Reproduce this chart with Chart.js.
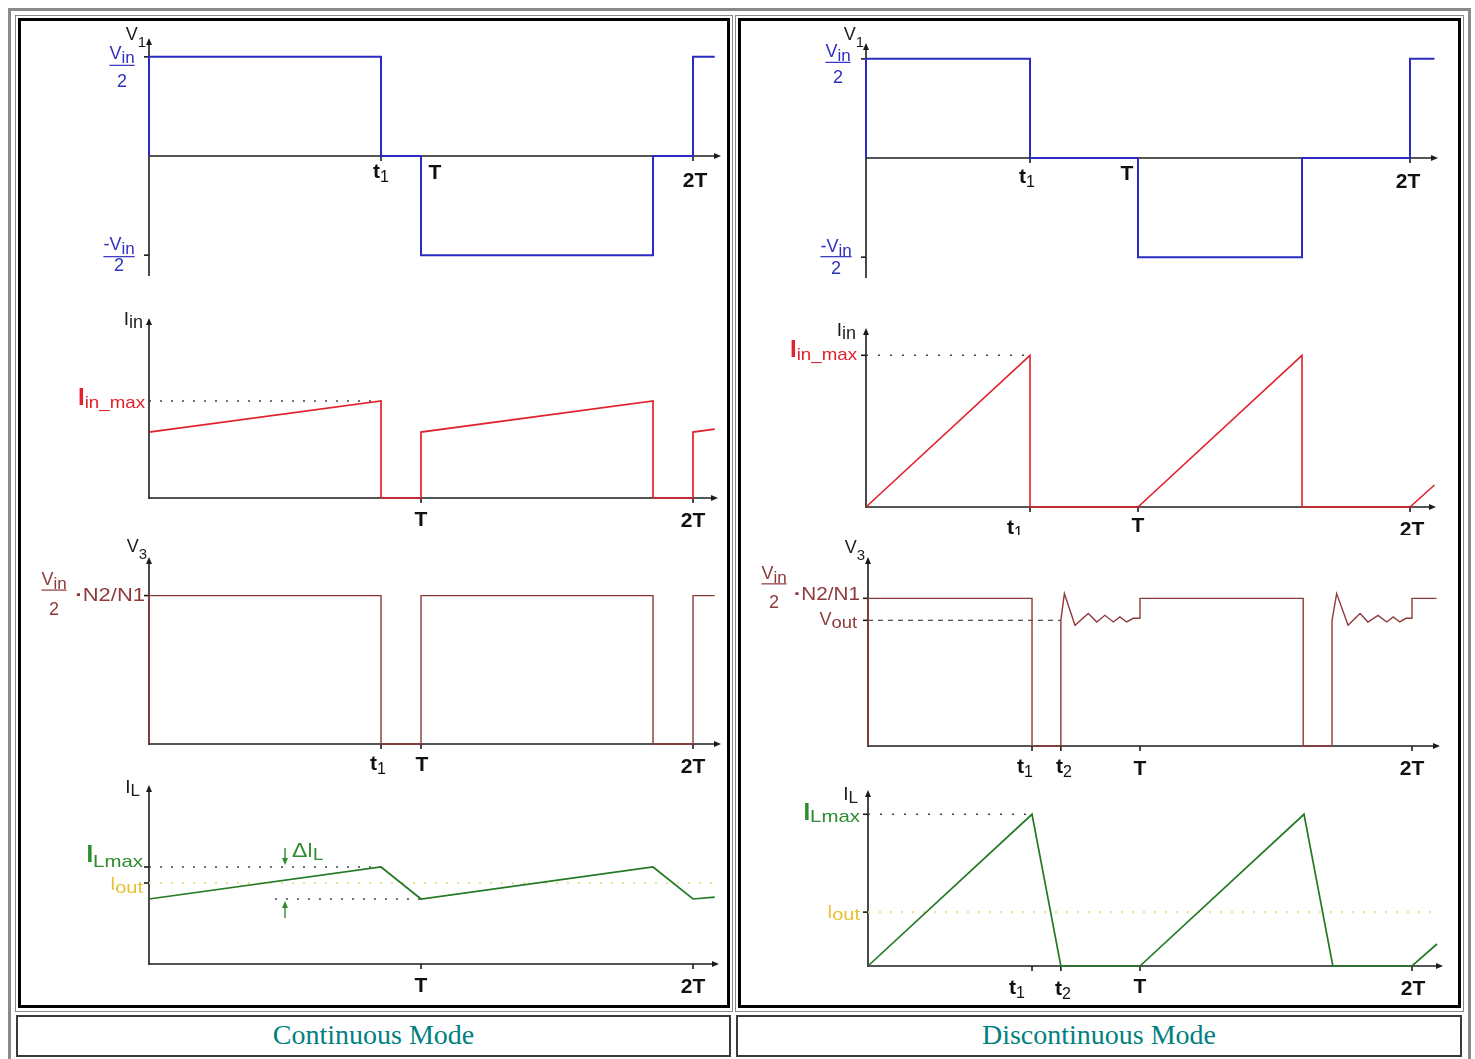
<!DOCTYPE html>
<html>
<head>
<meta charset="utf-8">
<script src="https://cdn.jsdelivr.net/npm/chart.js@4.4.0/dist/chart.umd.min.js"></script>
<style>
body { margin: 0; background: #fff; width: 1475px; height: 1059px; position: relative; overflow: hidden; }
.box { position: absolute; box-sizing: border-box; }
canvas { position: absolute; }
.cap { position: absolute; box-sizing: border-box; border: 2px solid #3a3a3a; background: #fff;
       font-family: "Liberation Serif", "Times New Roman", serif; color: #008080; font-size: 28px;
       text-align: center; line-height: 36px; }
</style>
</head>
<body>
<div class="box" style="left:8px;top:8px;width:1463px;height:1060px;border:3px solid #8a8a8a"></div>
<div class="box" style="left:15px;top:15px;width:718px;height:997px;border:1px solid #8a8a8a"></div>
<div class="box" style="left:735px;top:15px;width:729px;height:997px;border:1px solid #8a8a8a"></div>
<div class="box" style="left:18px;top:18px;width:712px;height:990px;border:3px solid #000"></div>
<div class="box" style="left:738px;top:18px;width:723px;height:990px;border:3px solid #000"></div>
<div class="cap" style="left:16px;top:1015px;width:715px;height:42px">Continuous Mode</div>
<div class="cap" style="left:736px;top:1015px;width:726px;height:42px">Discontinuous Mode</div>

<canvas id="contV1"></canvas>
<canvas id="contIin"></canvas>
<canvas id="contV3"></canvas>
<canvas id="contIL"></canvas>
<canvas id="discV1"></canvas>
<canvas id="discIin"></canvas>
<canvas id="discV3"></canvas>
<canvas id="discIL"></canvas>

<script>
// ---- data: time in periods (T = 1), levels normalised to the labelled value ----
const contTimes = { t1: 0.853, T: 1, '2T': 2 };
const discTimes = { t1: 0.603, t2: 0.709, T: 1, '2T': 2 };

const contV1t = [0, 0, 0.853, 0.853, 1, 1, 1.853, 1.853, 2, 2, 2.08];
const contV1v = [0, 1, 1, 0, 0, -1, -1, 0, 0, 1, 1];
const contIint = [0, 0.853, 0.853, 1, 1, 1.853, 1.853, 2, 2, 2.08];
const contIinv = [0.68, 1, 0, 0, 0.68, 1, 0, 0, 0.68, 0.71];
const contV3t = [0, 0, 0.853, 0.853, 1, 1, 1.853, 1.853, 2, 2, 2.08];
const contV3v = [0, 1, 1, 0, 0, 1, 1, 0, 0, 1, 1];
const contILt = [0, 0.853, 1, 1.853, 2, 2.08];
const contILv = [0.67, 1, 0.67, 1, 0.67, 0.69];
const contILmin = 0.67;
const contIout = 0.835;

const discV1t = [0, 0, 0.603, 0.603, 1, 1, 1.603, 1.603, 2, 2, 2.09];
const discV1v = [0, 1, 1, 0, 0, -1, -1, 0, 0, 1, 1];
const discIint = [0, 0.603, 0.603, 1, 1.603, 1.603, 2, 2.09];
const discIinv = [0, 1, 0, 0, 1, 0, 0, 0.145];
const discV3t = [0, 0, 0.603, 0.603, 0.709, 0.709, 0.722, 0.761, 0.81, 0.841, 0.871, 0.902, 0.926, 0.951, 0.975, 1,
                 1, 1.6, 1.6, 1.706, 1.706, 1.723, 1.765, 1.809, 1.838, 1.875, 1.907, 1.931, 1.955, 1.978, 2, 2, 2.09];
const discV3v = [0, 1, 1, 0, 0, 0.851, 1.032, 0.818, 0.898, 0.84, 0.885, 0.84, 0.874, 0.84, 0.865, 0.865,
                 1, 1, 0, 0, 0.851, 1.032, 0.818, 0.898, 0.84, 0.885, 0.84, 0.874, 0.84, 0.865, 0.865, 1, 1];
const discVout = 0.851;
const discILt = [0, 0.603, 0.709, 1, 1.603, 1.709, 2, 2.092];
const discILv = [0, 1, 0, 0, 1, 0, 0, 0.145];
const discIout = 0.355;

const contV1Ticks = ['t1', 'T', '2T'];
const contIinTicks = ['T', '2T'];
const contV3Ticks = ['t1', 'T', '2T'];
const contILTicks = ['T', '2T'];
const discV1Ticks = ['t1', 'T', '2T'];
const discIinTicks = ['t1', 'T', '2T'];
const discV3Ticks = ['t1', 't2', 'T', '2T'];
const discILTicks = ['t1', 't2', 'T', '2T'];

// ---- styling ----
const FONT = '"Liberation Sans", Arial, sans-serif';
const AXIS = '#1c1c1c';
const BLUE = '#2b2bc2', BLUE_TXT = '#3030c0';
const RED = '#e0222c';
const BROWN = '#8e3a3a';
const GREEN = '#247a24', GREEN_TXT = '#2e8c2e';
const YELLOW_TXT = '#e8c030', YELLOW_DOT = '#efe090';
const DOT = '#444';
const PERIOD_PX = 272;

const tickParts = {
    t1: [['t', 21, 0, true], ['1', 16, 4]],
    t2: [['t', 21, 0, true], ['2', 16, 4]],
    T: [['T', 21, 0, true]],
    '2T': [['2T', 21, 0, true]]
};

const fontOf = p => (p[3] ? 'bold ' : '') + p[1] + 'px ' + FONT;

function seg(ctx, x1, y1, x2, y2) {
    ctx.beginPath(); ctx.moveTo(x1, y1); ctx.lineTo(x2, y2); ctx.stroke();
}

function head(ctx, x, y, dx, dy) {
    // small filled arrow head, tip at x,y pointing along dx,dy
    const px = -dy, py = dx;
    ctx.beginPath();
    ctx.moveTo(x, y);
    ctx.lineTo(x - dx * 7 + px * 3, y - dy * 7 + py * 3);
    ctx.lineTo(x - dx * 7 - px * 3, y - dy * 7 - py * 3);
    ctx.closePath();
    ctx.fill();
}

function drawRuns(ctx, parts, x, y, align, color) {
    let w = 0;
    parts.forEach(p => { ctx.font = fontOf(p); w += ctx.measureText(p[0]).width * (p[4] || 1); });
    let cx = align === 'right' ? x - w : align === 'center' ? x - w / 2 : x;
    ctx.fillStyle = color;
    ctx.textAlign = 'left';
    ctx.textBaseline = 'alphabetic';
    parts.forEach(p => {
        ctx.font = fontOf(p);
        const pw = ctx.measureText(p[0]).width * (p[4] || 1);
        ctx.save();
        ctx.translate(cx, y + (p[2] || 0));
        ctx.scale(p[4] || 1, 1);
        ctx.fillText(p[0], 0, 0);
        ctx.restore();
        cx += pw;
    });
    return w;
}

function drawFrac(ctx, f, X0, py, color) {
    const cx = X0 + f.cx, bar = py + f.bar;
    const w = drawRuns(ctx, f.num, cx, bar + f.numB, 'center', color);
    ctx.strokeStyle = color;
    ctx.lineWidth = 1.2;
    seg(ctx, cx - w / 2, bar + 0.5, cx + w / 2, bar + 0.5);
    drawRuns(ctx, [[f.den, 18]], cx, bar + f.denB, 'center', color);
}

// draws the axes, arrows, ticks and the text labels through the chart's scales
function diagram(spec) {
    return {
        id: 'diagram',
        beforeDatasetsDraw(chart) {
            const { ctx } = chart, sx = chart.scales.x, sy = chart.scales.y;
            const X0 = sx.getPixelForValue(0), X1 = sx.getPixelForValue(sx.max);
            const Y0 = sy.getPixelForValue(0), YT = sy.getPixelForValue(sy.max), YB = sy.getPixelForValue(sy.min);
            ctx.save();
            ctx.strokeStyle = AXIS; ctx.fillStyle = AXIS; ctx.lineWidth = 1.6;
            seg(ctx, X0, YB + 1, X0, YT + 4);
            seg(ctx, X0, Y0, X1 - 4, Y0);
            head(ctx, X0, YT, 0, -1);
            head(ctx, X1, Y0, 1, 0);
            spec.ticks.forEach(tk => {
                const p = sx.getPixelForValue(spec.times[tk.n]);
                seg(ctx, p, Y0, p, Y0 + 5);
            });
            spec.yTicks.forEach(v => {
                const p = sy.getPixelForValue(v);
                seg(ctx, X0 - 5, p, X0, p);
            });
            ctx.restore();
        },
        afterDatasetsDraw(chart) {
            const { ctx } = chart, sx = chart.scales.x, sy = chart.scales.y;
            const X0 = sx.getPixelForValue(0);
            const Y0 = sy.getPixelForValue(0), YT = sy.getPixelForValue(sy.max);
            ctx.save();
            drawRuns(ctx, spec.axis.parts, X0 + spec.axis.dx, YT + spec.axis.dy, 'right', AXIS);
            spec.ticks.forEach(tk => {
                const p = sx.getPixelForValue(spec.times[tk.n]);
                drawRuns(ctx, tickParts[tk.n], p + tk.dx, Y0 + tk.dy, 'center', '#111');
            });
            (spec.labels || []).forEach(l => {
                const py = sy.getPixelForValue(l.v);
                if (l.frac) drawFrac(ctx, l.frac, X0, py, l.color);
                if (l.parts) drawRuns(ctx, l.parts, X0 + l.x, py + l.y, l.align || 'right', l.color);
            });
            (spec.arrows || []).forEach(a => {
                const px = sx.getPixelForValue(a.t), py = sy.getPixelForValue(a.v);
                ctx.strokeStyle = a.color; ctx.fillStyle = a.color; ctx.lineWidth = 1.4;
                seg(ctx, px, py + a.from, px, py + a.to + (a.from < a.to ? -4 : 4));
                head(ctx, px, py + a.to, 0, a.from < a.to ? 1 : -1);
            });
            ctx.restore();
        }
    };
}

function series(t, v, color, width, dash) {
    return {
        data: t.map((x, i) => ({ x: x, y: v[i] })),
        borderColor: color,
        borderWidth: width,
        borderDash: dash || [],
        pointRadius: 0,
        tension: 0,
        fill: false,
        clip: false
    };
}

function makeChart(id, box, yRange, datasets, spec) {
    const cv = document.getElementById(id);
    cv.width = box.w; cv.height = box.h;
    cv.style.left = box.cx + 'px'; cv.style.top = box.cy + 'px';
    new Chart(cv, {
        type: 'line',
        data: { datasets: datasets },
        options: {
            responsive: false,
            animation: false,
            events: [],
            layout: { padding: { left: box.x0 - box.cx, right: box.cx + box.w - box.x1,
                                 top: box.y0 - box.cy, bottom: box.cy + box.h - box.y1 } },
            scales: {
                x: { type: 'linear', min: 0, max: (box.x1 - box.x0) / PERIOD_PX, display: false },
                y: { type: 'linear', min: yRange[0], max: yRange[1], display: false }
            },
            plugins: { legend: { display: false }, tooltip: { enabled: false } }
        },
        plugins: [diagram(spec)]
    });
}

const ticksOf = (names, offs) => names.map((n, i) => ({ n: n, dx: offs[i][0], dy: offs[i][1] }));
const flat = (a, b, v) => [[a, b], [v, v]];
const VIN = [['V', 18, 0], ['in', 17, 4]];
const MVIN = [['-V', 18, 0], ['in', 17, 4]];

// ---------------- Continuous mode ----------------
makeChart('contV1', { cx: 21, cy: 22, w: 706, h: 270, x0: 149, x1: 721, y0: 38, y1: 275 }, [-1.2, 1.19],
    [series(contV1t, contV1v, BLUE, 2)],
    { times: contTimes,
      axis: { parts: [['V', 18, 0], ['1', 15, 7]], dx: -3, dy: 2 },
      ticks: ticksOf(contV1Ticks, [[0, 22], [14, 23], [2, 31]]),
      yTicks: [1, -1],
      labels: [
        { v: 1, color: BLUE_TXT, frac: { num: VIN, den: '2', cx: -27, bar: 8, numB: -6, denB: 22 } },
        { v: -1, color: BLUE_TXT, frac: { num: MVIN, den: '2', cx: -30, bar: 1, numB: -6, denB: 15 } }
      ] });

makeChart('contIin', { cx: 21, cy: 295, w: 706, h: 240, x0: 149, x1: 718, y0: 318, y1: 498 }, [0, 1.856],
    [series(contIint, contIinv, RED, 1.7),
     series(...flat(0, contTimes.t1, 1), DOT, 1.5, [2, 9])],
    { times: contTimes,
      axis: { parts: [['I', 19, 0], ['in', 18, 3]], dx: -6, dy: 7 },
      ticks: ticksOf(contIinTicks, [[0, 28], [0, 29]]),
      yTicks: [],
      labels: [
        { v: 1, x: -4, y: 4, color: RED, parts: [['I', 24, 0, true], ['in_max', 17, 3, false, 1.1]] }
      ] });

makeChart('contV3', { cx: 21, cy: 535, w: 706, h: 245, x0: 149, x1: 721, y0: 557, y1: 744 }, [0, 1.26],
    [series(contV3t, contV3v, BROWN, 1.4)],
    { times: contTimes,
      axis: { parts: [['V', 18, 0], ['3', 15, 7]], dx: -2, dy: -5 },
      ticks: ticksOf(contV3Ticks, [[-3, 26], [1, 27], [0, 29]]),
      yTicks: [1],
      labels: [
        { v: 1, color: BROWN, frac: { num: VIN, den: '2', cx: -95, bar: -6, numB: -5, denB: 25 } },
        { v: 1, x: -4, y: 5, color: BROWN, parts: [['\u00b7', 19, 0, true, 1.2], ['N2/N1', 18, 0, false, 1.22]] }
      ] });

makeChart('contIL', { cx: 21, cy: 780, w: 706, h: 224, x0: 149, x1: 719, y0: 785, y1: 964 }, [0, 1.845],
    [series(contILt, contILv, GREEN, 1.7),
     series(...flat(0, contTimes.t1, 1), DOT, 1.5, [2, 9]),
     series(...flat(0.463, 1, contILmin), DOT, 1.5, [2, 9]),
     series(...flat(0, 2.08, contIout), YELLOW_DOT, 2.2, [2, 9])],
    { times: contTimes,
      axis: { parts: [['I', 19, 0], ['L', 17, 3]], dx: -9, dy: 8 },
      ticks: ticksOf(contILTicks, [[0, 28], [0, 29]]),
      yTicks: [1, contIout],
      labels: [
        { v: 1, x: -6, y: -5, color: GREEN_TXT, parts: [['I', 24, 0, true], ['Lmax', 17, 5, false, 1.2]] },
        { v: contIout, x: -6, y: 7, color: YELLOW_TXT, parts: [['I', 18, 0], ['out', 16, 3, false, 1.25]] },
        { v: 1, x: 143, y: -10, align: 'left', color: GREEN_TXT, parts: [['\u0394', 20, 0, false, 1.15], ['I', 20, 0], ['L', 17, 3, false, 1.1]] }
      ],
      arrows: [
        { t: 0.5, v: 1, from: -19, to: -2, color: GREEN_TXT },
        { t: 0.5, v: contILmin, from: 19, to: 2, color: GREEN_TXT }
      ] });

// ---------------- Discontinuous mode ----------------
makeChart('discV1', { cx: 741, cy: 22, w: 717, h: 270, x0: 866, x1: 1438, y0: 43, y1: 277 }, [-1.2, 1.16],
    [series(discV1t, discV1v, BLUE, 2)],
    { times: discTimes,
      axis: { parts: [['V', 18, 0], ['1', 15, 7]], dx: -2, dy: -3 },
      ticks: ticksOf(discV1Ticks, [[-3, 25], [-11, 22], [-2, 30]]),
      yTicks: [1, -1],
      labels: [
        { v: 1, color: BLUE_TXT, frac: { num: VIN, den: '2', cx: -28, bar: 3, numB: -5, denB: 21 } },
        { v: -1, color: BLUE_TXT, frac: { num: MVIN, den: '2', cx: -30, bar: -1, numB: -4, denB: 18 } }
      ] });

makeChart('discIin', { cx: 741, cy: 295, w: 717, h: 240, x0: 866, x1: 1436, y0: 328, y1: 507 }, [0, 1.18],
    [series(discIint, discIinv, RED, 1.6),
     series(...flat(0, discTimes.t1, 1), DOT, 1.5, [2, 10])],
    { times: discTimes,
      axis: { parts: [['I', 19, 0], ['in', 18, 3]], dx: -10, dy: 8 },
      ticks: ticksOf(discIinTicks, [[-15, 27], [0, 25], [2, 29]]),
      yTicks: [1],
      labels: [
        { v: 1, x: -9, y: 2, color: RED, parts: [['I', 24, 0, true], ['in_max', 17, 3, false, 1.1]] }
      ] });

makeChart('discV3', { cx: 741, cy: 535, w: 717, h: 245, x0: 868, x1: 1440, y0: 557, y1: 746 }, [0, 1.28],
    [series(discV3t, discV3v, BROWN, 1.4),
     series(...flat(0, discTimes.t2, discVout), '#555', 1.3, [5, 5])],
    { times: discTimes,
      axis: { parts: [['V', 18, 0], ['3', 15, 7]], dx: -3, dy: -4 },
      ticks: ticksOf(discV3Ticks, [[-7, 27], [3, 27], [0, 29], [0, 29]]),
      yTicks: [1, discVout],
      labels: [
        { v: 1, color: BROWN, frac: { num: VIN, den: '2', cx: -94, bar: -15, numB: -4, denB: 25 } },
        { v: 1, x: -8, y: 2, color: BROWN, parts: [['\u00b7', 19, 0, true, 1.2], ['N2/N1', 18, 0, false, 1.15]] },
        { v: discVout, x: -11, y: 5, color: BROWN, parts: [['V', 18, 0], ['out', 16, 3, false, 1.15]] }
      ] });

makeChart('discIL', { cx: 741, cy: 780, w: 717, h: 224, x0: 868, x1: 1443, y0: 790, y1: 966 }, [0, 1.16],
    [series(discILt, discILv, GREEN, 1.7),
     series(...flat(0, discTimes.t1, 1), DOT, 1.5, [2, 10]),
     series(...flat(0, 2.08, discIout), YELLOW_DOT, 2.2, [2, 9])],
    { times: discTimes,
      axis: { parts: [['I', 19, 0], ['L', 17, 3]], dx: -10, dy: 10 },
      ticks: ticksOf(discILTicks, [[-15, 28], [2, 29], [0, 27], [1, 29]]),
      yTicks: [1, discIout],
      labels: [
        { v: 1, x: -8, y: 6, color: GREEN_TXT, parts: [['I', 24, 0, true], ['Lmax', 17, 2, false, 1.2]] },
        { v: discIout, x: -8, y: 6, color: YELLOW_TXT, parts: [['I', 18, 0], ['out', 16, 2, false, 1.25]] }
      ] });
</script>
</body>
</html>
